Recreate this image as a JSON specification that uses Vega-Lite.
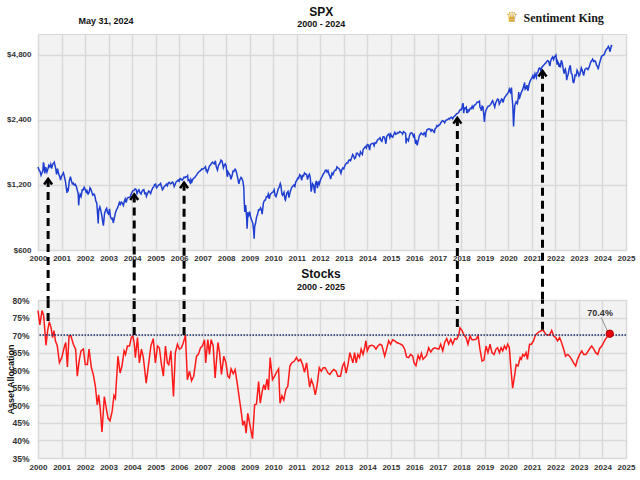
{
  "$schema": "https://vega.github.io/schema/vega-lite/v6.json",
  "background": "white",
  "padding": {"left": 5, "right": 3, "top": 5, "bottom": 3},
  "bounds": "flush",
  "spacing": 50,
  "config": {
    "font": "Liberation Sans",
    "view": {"fill": "#f2f2f2", "stroke": "#d6d6d6", "strokeWidth": 1},
    "axis": {"labelFont": "Liberation Sans", "labelFontWeight": "bold", "labelFontSize": 8, "labelColor": "#333333", "gridColor": "#d9d9d9", "gridWidth": 1.5, "ticks": false, "domain": false, "labelPadding": 5, "labelOverlap": false},
    "title": {"font": "Liberation Sans", "fontWeight": "bold", "color": "#111111", "subtitleFont": "Liberation Sans", "subtitleFontWeight": "bold", "subtitleColor": "#111111"}
  },
  "datasets": {
    "arrows": [
      {"t": 2000.43, "tip": 1280, "base": 352, "peak": 74.0, "top": 80},
      {"t": 2004.09, "tip": 1085, "base": 352, "peak": 70.0, "top": 80},
      {"t": 2006.21, "tip": 1230, "base": 352, "peak": 70.0, "top": 80},
      {"t": 2017.83, "tip": 2450, "base": 352, "peak": 72.3, "top": 80},
      {"t": 2021.45, "tip": 4050, "base": 352, "peak": 71.5, "top": 80}
    ],
    "heading": [
      {"t": 2012.04, "v": 7546, "label": "SPX", "size": 12},
      {"t": 2012.04, "v": 6675, "label": "2000 - 2024", "size": 9},
      {"t": 2002.89, "v": 6860, "label": "May 31, 2024", "size": 9}
    ],
    "spx": [
{"t":2000.00,"v":1455},{"t":2000.05,"v":1400},{"t":2000.08,"v":1394},{"t":2000.13,"v":1330},{"t":2000.17,"v":1366},{"t":2000.21,"v":1400},{"t":2000.23,"v":1527},{"t":2000.25,"v":1499},{"t":2000.29,"v":1356},{"t":2000.33,"v":1452},{"t":2000.38,"v":1378},{"t":2000.42,"v":1421},{"t":2000.46,"v":1478},{"t":2000.50,"v":1455},{"t":2000.54,"v":1497},{"t":2000.58,"v":1431},{"t":2000.63,"v":1500},{"t":2000.67,"v":1518},{"t":2000.69,"v":1530},{"t":2000.75,"v":1437},{"t":2000.79,"v":1342},{"t":2000.83,"v":1429},{"t":2000.88,"v":1348},{"t":2000.92,"v":1315},{"t":2000.96,"v":1264},
{"t":2001.00,"v":1320},{"t":2001.04,"v":1340},{"t":2001.08,"v":1366},{"t":2001.13,"v":1300},{"t":2001.17,"v":1240},{"t":2001.21,"v":1150},{"t":2001.23,"v":1103},{"t":2001.25,"v":1160},{"t":2001.28,"v":1120},{"t":2001.33,"v":1249},{"t":2001.38,"v":1312},{"t":2001.42,"v":1256},{"t":2001.46,"v":1215},{"t":2001.50,"v":1224},{"t":2001.54,"v":1200},{"t":2001.58,"v":1211},{"t":2001.63,"v":1180},{"t":2001.67,"v":1134},{"t":2001.71,"v":1092},{"t":2001.73,"v":966},{"t":2001.75,"v":1041},{"t":2001.79,"v":1085},{"t":2001.83,"v":1060},{"t":2001.88,"v":1140},{"t":2001.92,"v":1139},{"t":2001.96,"v":1170},
{"t":2002.00,"v":1148},{"t":2002.05,"v":1110},{"t":2002.08,"v":1130},{"t":2002.13,"v":1090},{"t":2002.17,"v":1107},{"t":2002.21,"v":1165},{"t":2002.25,"v":1147},{"t":2002.29,"v":1110},{"t":2002.33,"v":1077},{"t":2002.38,"v":1090},{"t":2002.42,"v":1067},{"t":2002.46,"v":1010},{"t":2002.50,"v":990},{"t":2002.54,"v":860},{"t":2002.56,"v":797},{"t":2002.58,"v":912},{"t":2002.63,"v":950},{"t":2002.67,"v":916},{"t":2002.71,"v":870},{"t":2002.75,"v":815},{"t":2002.78,"v":777},{"t":2002.83,"v":886},{"t":2002.88,"v":920},{"t":2002.92,"v":936},{"t":2002.96,"v":890},
{"t":2003.00,"v":880},{"t":2003.04,"v":930},{"t":2003.08,"v":856},{"t":2003.13,"v":835},{"t":2003.17,"v":841},{"t":2003.20,"v":800},{"t":2003.25,"v":848},{"t":2003.29,"v":890},{"t":2003.33,"v":917},{"t":2003.38,"v":940},{"t":2003.42,"v":964},{"t":2003.46,"v":995},{"t":2003.50,"v":975},{"t":2003.54,"v":1000},{"t":2003.58,"v":990},{"t":2003.63,"v":965},{"t":2003.67,"v":1008},{"t":2003.71,"v":1035},{"t":2003.75,"v":996},{"t":2003.79,"v":1040},{"t":2003.83,"v":1051},{"t":2003.88,"v":1050},{"t":2003.92,"v":1058},{"t":2003.96,"v":1090},
{"t":2004.00,"v":1112},{"t":2004.04,"v":1130},{"t":2004.08,"v":1131},{"t":2004.12,"v":1150},{"t":2004.17,"v":1145},{"t":2004.21,"v":1095},{"t":2004.25,"v":1126},{"t":2004.29,"v":1140},{"t":2004.33,"v":1107},{"t":2004.38,"v":1090},{"t":2004.42,"v":1121},{"t":2004.46,"v":1135},{"t":2004.50,"v":1141},{"t":2004.54,"v":1095},{"t":2004.58,"v":1102},{"t":2004.61,"v":1063},{"t":2004.67,"v":1104},{"t":2004.71,"v":1125},{"t":2004.75,"v":1115},{"t":2004.79,"v":1095},{"t":2004.83,"v":1130},{"t":2004.88,"v":1165},{"t":2004.92,"v":1174},{"t":2004.96,"v":1205},
{"t":2005.00,"v":1212},{"t":2005.04,"v":1165},{"t":2005.08,"v":1181},{"t":2005.13,"v":1200},{"t":2005.17,"v":1204},{"t":2005.21,"v":1220},{"t":2005.25,"v":1181},{"t":2005.29,"v":1140},{"t":2005.33,"v":1157},{"t":2005.38,"v":1185},{"t":2005.42,"v":1192},{"t":2005.46,"v":1210},{"t":2005.50,"v":1191},{"t":2005.54,"v":1225},{"t":2005.58,"v":1234},{"t":2005.63,"v":1215},{"t":2005.67,"v":1220},{"t":2005.71,"v":1238},{"t":2005.75,"v":1229},{"t":2005.79,"v":1180},{"t":2005.83,"v":1207},{"t":2005.88,"v":1245},{"t":2005.92,"v":1249},{"t":2005.96,"v":1265},
{"t":2006.00,"v":1248},{"t":2006.04,"v":1285},{"t":2006.08,"v":1280},{"t":2006.13,"v":1262},{"t":2006.17,"v":1281},{"t":2006.21,"v":1305},{"t":2006.25,"v":1295},{"t":2006.29,"v":1310},{"t":2006.33,"v":1311},{"t":2006.36,"v":1326},{"t":2006.38,"v":1260},{"t":2006.42,"v":1270},{"t":2006.46,"v":1230},{"t":2006.48,"v":1224},{"t":2006.50,"v":1270},{"t":2006.54,"v":1240},{"t":2006.58,"v":1277},{"t":2006.63,"v":1290},{"t":2006.67,"v":1304},{"t":2006.71,"v":1320},{"t":2006.75,"v":1336},{"t":2006.79,"v":1360},{"t":2006.83,"v":1378},{"t":2006.88,"v":1390},{"t":2006.92,"v":1401},{"t":2006.96,"v":1425},
{"t":2007.00,"v":1418},{"t":2007.04,"v":1430},{"t":2007.08,"v":1438},{"t":2007.12,"v":1457},{"t":2007.15,"v":1400},{"t":2007.17,"v":1407},{"t":2007.20,"v":1375},{"t":2007.25,"v":1421},{"t":2007.29,"v":1470},{"t":2007.33,"v":1482},{"t":2007.38,"v":1515},{"t":2007.42,"v":1531},{"t":2007.46,"v":1510},{"t":2007.50,"v":1503},{"t":2007.54,"v":1553},{"t":2007.58,"v":1455},{"t":2007.63,"v":1406},{"t":2007.67,"v":1474},{"t":2007.71,"v":1500},{"t":2007.75,"v":1527},{"t":2007.78,"v":1565},{"t":2007.83,"v":1549},{"t":2007.88,"v":1440},{"t":2007.92,"v":1481},{"t":2007.96,"v":1500},
{"t":2008.00,"v":1468},{"t":2008.04,"v":1330},{"t":2008.06,"v":1310},{"t":2008.08,"v":1379},{"t":2008.13,"v":1350},{"t":2008.17,"v":1331},{"t":2008.20,"v":1275},{"t":2008.25,"v":1323},{"t":2008.29,"v":1390},{"t":2008.33,"v":1386},{"t":2008.38,"v":1420},{"t":2008.42,"v":1400},{"t":2008.46,"v":1340},{"t":2008.50,"v":1280},{"t":2008.54,"v":1215},{"t":2008.58,"v":1267},{"t":2008.63,"v":1300},{"t":2008.67,"v":1283},{"t":2008.71,"v":1250},{"t":2008.75,"v":1166},{"t":2008.77,"v":1000},{"t":2008.79,"v":900},{"t":2008.81,"v":940},{"t":2008.83,"v":969},{"t":2008.87,"v":850},{"t":2008.89,"v":752},{"t":2008.92,"v":896},{"t":2008.96,"v":870},
{"t":2009.00,"v":903},{"t":2009.04,"v":850},{"t":2009.08,"v":826},{"t":2009.13,"v":800},{"t":2009.17,"v":735},{"t":2009.19,"v":677},{"t":2009.21,"v":770},{"t":2009.25,"v":798},{"t":2009.29,"v":850},{"t":2009.33,"v":873},{"t":2009.38,"v":920},{"t":2009.42,"v":919},{"t":2009.46,"v":940},{"t":2009.50,"v":919},{"t":2009.53,"v":880},{"t":2009.58,"v":987},{"t":2009.63,"v":1020},{"t":2009.67,"v":1021},{"t":2009.71,"v":1060},{"t":2009.75,"v":1057},{"t":2009.79,"v":1090},{"t":2009.83,"v":1036},{"t":2009.88,"v":1090},{"t":2009.92,"v":1096},{"t":2009.96,"v":1110},
{"t":2010.00,"v":1115},{"t":2010.04,"v":1140},{"t":2010.08,"v":1074},{"t":2010.12,"v":1060},{"t":2010.17,"v":1104},{"t":2010.21,"v":1150},{"t":2010.25,"v":1169},{"t":2010.30,"v":1217},{"t":2010.33,"v":1187},{"t":2010.37,"v":1090},{"t":2010.40,"v":1075},{"t":2010.42,"v":1089},{"t":2010.46,"v":1110},{"t":2010.50,"v":1031},{"t":2010.52,"v":1022},{"t":2010.58,"v":1102},{"t":2010.63,"v":1120},{"t":2010.67,"v":1049},{"t":2010.71,"v":1100},{"t":2010.75,"v":1141},{"t":2010.79,"v":1170},{"t":2010.83,"v":1183},{"t":2010.88,"v":1200},{"t":2010.92,"v":1181},{"t":2010.96,"v":1240},
{"t":2011.00,"v":1258},{"t":2011.04,"v":1290},{"t":2011.08,"v":1286},{"t":2011.13,"v":1340},{"t":2011.17,"v":1327},{"t":2011.21,"v":1260},{"t":2011.25,"v":1326},{"t":2011.29,"v":1320},{"t":2011.33,"v":1364},{"t":2011.38,"v":1345},{"t":2011.42,"v":1345},{"t":2011.46,"v":1270},{"t":2011.50,"v":1321},{"t":2011.54,"v":1345},{"t":2011.58,"v":1292},{"t":2011.61,"v":1120},{"t":2011.63,"v":1140},{"t":2011.67,"v":1219},{"t":2011.71,"v":1200},{"t":2011.75,"v":1131},{"t":2011.77,"v":1099},{"t":2011.79,"v":1200},{"t":2011.83,"v":1253},{"t":2011.88,"v":1160},{"t":2011.92,"v":1247},{"t":2011.96,"v":1210},
{"t":2012.00,"v":1258},{"t":2012.04,"v":1290},{"t":2012.08,"v":1312},{"t":2012.13,"v":1350},{"t":2012.17,"v":1366},{"t":2012.21,"v":1400},{"t":2012.25,"v":1408},{"t":2012.29,"v":1375},{"t":2012.33,"v":1398},{"t":2012.38,"v":1340},{"t":2012.42,"v":1310},{"t":2012.44,"v":1278},{"t":2012.50,"v":1362},{"t":2012.54,"v":1340},{"t":2012.58,"v":1379},{"t":2012.63,"v":1405},{"t":2012.67,"v":1407},{"t":2012.71,"v":1455},{"t":2012.75,"v":1441},{"t":2012.79,"v":1430},{"t":2012.83,"v":1412},{"t":2012.88,"v":1360},{"t":2012.92,"v":1416},{"t":2012.96,"v":1440},
{"t":2013.00,"v":1426},{"t":2013.04,"v":1470},{"t":2013.08,"v":1498},{"t":2013.13,"v":1520},{"t":2013.17,"v":1515},{"t":2013.21,"v":1560},{"t":2013.25,"v":1569},{"t":2013.29,"v":1555},{"t":2013.33,"v":1598},{"t":2013.38,"v":1660},{"t":2013.42,"v":1631},{"t":2013.46,"v":1590},{"t":2013.50,"v":1606},{"t":2013.54,"v":1680},{"t":2013.58,"v":1686},{"t":2013.63,"v":1655},{"t":2013.67,"v":1633},{"t":2013.71,"v":1710},{"t":2013.75,"v":1682},{"t":2013.79,"v":1660},{"t":2013.83,"v":1757},{"t":2013.88,"v":1780},{"t":2013.92,"v":1806},{"t":2013.96,"v":1780},
{"t":2014.00,"v":1848},{"t":2014.04,"v":1840},{"t":2014.08,"v":1783},{"t":2014.10,"v":1741},{"t":2014.13,"v":1840},{"t":2014.17,"v":1859},{"t":2014.21,"v":1870},{"t":2014.25,"v":1872},{"t":2014.29,"v":1820},{"t":2014.33,"v":1884},{"t":2014.38,"v":1880},{"t":2014.42,"v":1924},{"t":2014.46,"v":1950},{"t":2014.50,"v":1960},{"t":2014.54,"v":1985},{"t":2014.58,"v":1931},{"t":2014.62,"v":1910},{"t":2014.67,"v":2003},{"t":2014.71,"v":2010},{"t":2014.75,"v":1972},{"t":2014.79,"v":1862},{"t":2014.83,"v":2018},{"t":2014.88,"v":2050},{"t":2014.92,"v":2068},{"t":2014.96,"v":1990},
{"t":2015.00,"v":2059},{"t":2015.04,"v":2010},{"t":2015.08,"v":1995},{"t":2015.13,"v":2060},{"t":2015.17,"v":2105},{"t":2015.21,"v":2060},{"t":2015.25,"v":2068},{"t":2015.29,"v":2100},{"t":2015.33,"v":2086},{"t":2015.38,"v":2120},{"t":2015.42,"v":2107},{"t":2015.46,"v":2095},{"t":2015.50,"v":2063},{"t":2015.54,"v":2120},{"t":2015.58,"v":2104},{"t":2015.63,"v":2080},{"t":2015.65,"v":1868},{"t":2015.67,"v":1972},{"t":2015.71,"v":1950},{"t":2015.75,"v":1920},{"t":2015.79,"v":2020},{"t":2015.83,"v":2079},{"t":2015.88,"v":2090},{"t":2015.92,"v":2080},{"t":2015.96,"v":2010},
{"t":2016.00,"v":2044},{"t":2016.04,"v":1900},{"t":2016.06,"v":1860},{"t":2016.08,"v":1940},{"t":2016.12,"v":1829},{"t":2016.17,"v":1932},{"t":2016.21,"v":2020},{"t":2016.25,"v":2060},{"t":2016.29,"v":2090},{"t":2016.33,"v":2065},{"t":2016.38,"v":2050},{"t":2016.42,"v":2097},{"t":2016.46,"v":2070},{"t":2016.48,"v":2000},{"t":2016.50,"v":2099},{"t":2016.54,"v":2160},{"t":2016.58,"v":2174},{"t":2016.63,"v":2185},{"t":2016.67,"v":2171},{"t":2016.71,"v":2130},{"t":2016.75,"v":2168},{"t":2016.79,"v":2140},{"t":2016.83,"v":2126},{"t":2016.85,"v":2085},{"t":2016.88,"v":2180},{"t":2016.92,"v":2199},{"t":2016.96,"v":2260},
{"t":2017.00,"v":2239},{"t":2017.04,"v":2270},{"t":2017.08,"v":2279},{"t":2017.13,"v":2330},{"t":2017.17,"v":2364},{"t":2017.21,"v":2380},{"t":2017.25,"v":2363},{"t":2017.29,"v":2330},{"t":2017.33,"v":2384},{"t":2017.38,"v":2400},{"t":2017.42,"v":2412},{"t":2017.46,"v":2440},{"t":2017.50,"v":2423},{"t":2017.54,"v":2460},{"t":2017.58,"v":2470},{"t":2017.63,"v":2430},{"t":2017.67,"v":2472},{"t":2017.71,"v":2500},{"t":2017.75,"v":2519},{"t":2017.79,"v":2560},{"t":2017.83,"v":2575},{"t":2017.88,"v":2590},{"t":2017.92,"v":2648},{"t":2017.96,"v":2680},
{"t":2018.00,"v":2674},{"t":2018.04,"v":2780},{"t":2018.07,"v":2872},{"t":2018.08,"v":2824},{"t":2018.10,"v":2581},{"t":2018.13,"v":2730},{"t":2018.17,"v":2714},{"t":2018.21,"v":2750},{"t":2018.23,"v":2588},{"t":2018.25,"v":2641},{"t":2018.27,"v":2581},{"t":2018.29,"v":2670},{"t":2018.33,"v":2648},{"t":2018.38,"v":2720},{"t":2018.42,"v":2705},{"t":2018.46,"v":2780},{"t":2018.50,"v":2718},{"t":2018.54,"v":2800},{"t":2018.58,"v":2816},{"t":2018.63,"v":2850},{"t":2018.67,"v":2902},{"t":2018.71,"v":2900},{"t":2018.75,"v":2914},{"t":2018.77,"v":2930},{"t":2018.79,"v":2750},{"t":2018.83,"v":2712},{"t":2018.85,"v":2641},{"t":2018.88,"v":2780},{"t":2018.92,"v":2760},{"t":2018.94,"v":2633},{"t":2018.98,"v":2351},
{"t":2019.00,"v":2507},{"t":2019.04,"v":2650},{"t":2019.08,"v":2704},{"t":2019.13,"v":2775},{"t":2019.17,"v":2784},{"t":2019.21,"v":2800},{"t":2019.25,"v":2834},{"t":2019.29,"v":2905},{"t":2019.33,"v":2946},{"t":2019.38,"v":2840},{"t":2019.42,"v":2752},{"t":2019.46,"v":2880},{"t":2019.50,"v":2942},{"t":2019.54,"v":3000},{"t":2019.58,"v":2980},{"t":2019.61,"v":2840},{"t":2019.67,"v":2926},{"t":2019.71,"v":3000},{"t":2019.75,"v":2977},{"t":2019.77,"v":2888},{"t":2019.83,"v":3038},{"t":2019.88,"v":3090},{"t":2019.92,"v":3141},{"t":2019.96,"v":3170},
{"t":2020.00,"v":3231},{"t":2020.04,"v":3330},{"t":2020.06,"v":3270},{"t":2020.08,"v":3226},{"t":2020.13,"v":3386},{"t":2020.16,"v":3000},{"t":2020.17,"v":2954},{"t":2020.19,"v":2740},{"t":2020.21,"v":2386},{"t":2020.22,"v":2237},{"t":2020.25,"v":2585},{"t":2020.27,"v":2790},{"t":2020.29,"v":2840},{"t":2020.33,"v":2912},{"t":2020.38,"v":2860},{"t":2020.42,"v":3044},{"t":2020.44,"v":3230},{"t":2020.46,"v":3000},{"t":2020.50,"v":3100},{"t":2020.54,"v":3200},{"t":2020.58,"v":3271},{"t":2020.63,"v":3380},{"t":2020.67,"v":3500},{"t":2020.69,"v":3580},{"t":2020.71,"v":3330},{"t":2020.75,"v":3363},{"t":2020.79,"v":3480},{"t":2020.83,"v":3270},{"t":2020.88,"v":3510},{"t":2020.92,"v":3622},{"t":2020.96,"v":3700},
{"t":2021.00,"v":3756},{"t":2021.04,"v":3850},{"t":2021.08,"v":3714},{"t":2021.13,"v":3930},{"t":2021.17,"v":3811},{"t":2021.19,"v":3770},{"t":2021.21,"v":3960},{"t":2021.25,"v":3973},{"t":2021.29,"v":4150},{"t":2021.33,"v":4181},{"t":2021.38,"v":4060},{"t":2021.42,"v":4204},{"t":2021.46,"v":4250},{"t":2021.50,"v":4298},{"t":2021.54,"v":4360},{"t":2021.58,"v":4395},{"t":2021.63,"v":4470},{"t":2021.67,"v":4523},{"t":2021.71,"v":4480},{"t":2021.75,"v":4308},{"t":2021.77,"v":4300},{"t":2021.79,"v":4470},{"t":2021.83,"v":4605},{"t":2021.88,"v":4700},{"t":2021.92,"v":4567},{"t":2021.96,"v":4700},
{"t":2022.00,"v":4766},{"t":2022.02,"v":4796},{"t":2022.04,"v":4580},{"t":2022.07,"v":4327},{"t":2022.08,"v":4516},{"t":2022.13,"v":4400},{"t":2022.15,"v":4225},{"t":2022.17,"v":4374},{"t":2022.21,"v":4200},{"t":2022.25,"v":4530},{"t":2022.29,"v":4400},{"t":2022.33,"v":4132},{"t":2022.37,"v":3930},{"t":2022.40,"v":4100},{"t":2022.42,"v":4132},{"t":2022.46,"v":3900},{"t":2022.48,"v":3667},{"t":2022.50,"v":3785},{"t":2022.54,"v":3900},{"t":2022.58,"v":4130},{"t":2022.63,"v":4300},{"t":2022.67,"v":3955},{"t":2022.71,"v":3900},{"t":2022.75,"v":3586},{"t":2022.78,"v":3577},{"t":2022.81,"v":3700},{"t":2022.83,"v":3872},{"t":2022.88,"v":3850},{"t":2022.92,"v":4080},{"t":2022.96,"v":3990},
{"t":2023.00,"v":3840},{"t":2023.04,"v":3900},{"t":2023.08,"v":4077},{"t":2023.10,"v":4180},{"t":2023.13,"v":4100},{"t":2023.17,"v":3970},{"t":2023.20,"v":3850},{"t":2023.25,"v":4109},{"t":2023.29,"v":4150},{"t":2023.33,"v":4169},{"t":2023.38,"v":4100},{"t":2023.42,"v":4180},{"t":2023.46,"v":4300},{"t":2023.50,"v":4450},{"t":2023.54,"v":4510},{"t":2023.58,"v":4589},{"t":2023.63,"v":4470},{"t":2023.67,"v":4508},{"t":2023.71,"v":4470},{"t":2023.75,"v":4288},{"t":2023.79,"v":4250},{"t":2023.82,"v":4117},{"t":2023.83,"v":4194},{"t":2023.88,"v":4410},{"t":2023.92,"v":4568},{"t":2023.96,"v":4720},
{"t":2024.00,"v":4770},{"t":2024.04,"v":4780},{"t":2024.08,"v":4846},{"t":2024.13,"v":5010},{"t":2024.17,"v":5096},{"t":2024.21,"v":5150},{"t":2024.25,"v":5254},{"t":2024.29,"v":5150},{"t":2024.31,"v":4967},{"t":2024.33,"v":5036},{"t":2024.38,"v":5300},{"t":2024.42,"v":5278}
    ],
    "alloc": [
{"t":2000.00,"p":77.0},{"t":2000.08,"p":72.9},{"t":2000.17,"p":77.0},{"t":2000.24,"p":75.6},{"t":2000.34,"p":67.1},{"t":2000.41,"p":71.3},{"t":2000.48,"p":73.8},{"t":2000.56,"p":72.0},{"t":2000.62,"p":69.3},{"t":2000.68,"p":71.3},{"t":2000.74,"p":68.4},{"t":2000.82,"p":66.9},{"t":2000.91,"p":62.1},
{"t":2001.01,"p":63.6},{"t":2001.11,"p":66.4},{"t":2001.18,"p":67.9},{"t":2001.25,"p":60.9},{"t":2001.32,"p":69.8},{"t":2001.40,"p":69.8},{"t":2001.50,"p":67.4},{"t":2001.60,"p":66.0},{"t":2001.67,"p":58.3},{"t":2001.76,"p":63.1},{"t":2001.83,"p":65.5},{"t":2001.93,"p":66.0},
{"t":2002.01,"p":61.6},{"t":2002.10,"p":61.6},{"t":2002.17,"p":66.0},{"t":2002.27,"p":60.7},{"t":2002.35,"p":58.8},{"t":2002.44,"p":55.4},{"t":2002.52,"p":50.1},{"t":2002.58,"p":53.0},{"t":2002.64,"p":49.6},{"t":2002.72,"p":42.4},{"t":2002.82,"p":52.5},{"t":2002.89,"p":49.6},{"t":2002.98,"p":46.3},
{"t":2003.06,"p":45.6},{"t":2003.15,"p":48.2},{"t":2003.23,"p":52.8},{"t":2003.29,"p":52.0},{"t":2003.40,"p":64.0},{"t":2003.49,"p":59.2},{"t":2003.57,"p":61.2},{"t":2003.66,"p":65.5},{"t":2003.72,"p":64.5},{"t":2003.80,"p":66.9},{"t":2003.89,"p":66.9},{"t":2003.97,"p":69.3},
{"t":2004.03,"p":69.8},{"t":2004.09,"p":67.9},{"t":2004.14,"p":63.6},{"t":2004.23,"p":69.3},{"t":2004.31,"p":62.1},{"t":2004.40,"p":66.0},{"t":2004.48,"p":63.6},{"t":2004.60,"p":56.3},{"t":2004.71,"p":62.1},{"t":2004.80,"p":66.9},{"t":2004.90,"p":69.0},{"t":2004.99,"p":62.1},
{"t":2005.08,"p":66.9},{"t":2005.16,"p":66.4},{"t":2005.25,"p":61.6},{"t":2005.33,"p":58.3},{"t":2005.42,"p":66.9},{"t":2005.50,"p":62.1},{"t":2005.56,"p":61.6},{"t":2005.65,"p":65.5},{"t":2005.76,"p":52.5},{"t":2005.84,"p":65.0},{"t":2005.93,"p":67.4},
{"t":2006.01,"p":66.0},{"t":2006.10,"p":66.4},{"t":2006.18,"p":67.9},{"t":2006.27,"p":70.0},{"t":2006.35,"p":57.3},{"t":2006.44,"p":59.7},{"t":2006.53,"p":57.0},{"t":2006.62,"p":58.3},{"t":2006.74,"p":64.0},{"t":2006.82,"p":64.5},{"t":2006.91,"p":66.4},{"t":2006.99,"p":66.9},
{"t":2007.08,"p":68.7},{"t":2007.13,"p":62.1},{"t":2007.22,"p":68.7},{"t":2007.29,"p":64.5},{"t":2007.36,"p":68.7},{"t":2007.45,"p":66.9},{"t":2007.53,"p":57.8},{"t":2007.65,"p":67.9},{"t":2007.72,"p":65.0},{"t":2007.80,"p":58.8},{"t":2007.90,"p":64.0},{"t":2007.99,"p":62.1},
{"t":2008.07,"p":58.3},{"t":2008.14,"p":57.8},{"t":2008.21,"p":60.4},{"t":2008.30,"p":59.0},{"t":2008.38,"p":60.2},{"t":2008.47,"p":56.3},{"t":2008.57,"p":51.5},{"t":2008.64,"p":48.2},{"t":2008.71,"p":44.3},{"t":2008.78,"p":45.6},{"t":2008.85,"p":42.1},{"t":2008.92,"p":47.7},
{"t":2009.00,"p":44.8},{"t":2009.12,"p":40.5},{"t":2009.21,"p":50.1},{"t":2009.29,"p":50.4},{"t":2009.38,"p":56.8},{"t":2009.45,"p":50.6},{"t":2009.53,"p":53.9},{"t":2009.60,"p":55.9},{"t":2009.66,"p":54.4},{"t":2009.74,"p":57.5},{"t":2009.80,"p":54.4},{"t":2009.87,"p":63.6},{"t":2009.97,"p":57.3},
{"t":2010.06,"p":58.3},{"t":2010.14,"p":59.4},{"t":2010.23,"p":60.4},{"t":2010.29,"p":50.6},{"t":2010.37,"p":52.7},{"t":2010.45,"p":51.5},{"t":2010.54,"p":54.6},{"t":2010.62,"p":55.4},{"t":2010.71,"p":61.2},{"t":2010.79,"p":62.1},{"t":2010.90,"p":62.6},{"t":2010.99,"p":63.6},
{"t":2011.07,"p":62.6},{"t":2011.16,"p":63.1},{"t":2011.25,"p":61.6},{"t":2011.33,"p":59.4},{"t":2011.42,"p":62.1},{"t":2011.48,"p":58.8},{"t":2011.55,"p":55.2},{"t":2011.62,"p":57.3},{"t":2011.70,"p":55.9},{"t":2011.79,"p":53.0},{"t":2011.87,"p":55.9},{"t":2011.96,"p":60.7},
{"t":2012.04,"p":59.7},{"t":2012.13,"p":60.7},{"t":2012.21,"p":60.7},{"t":2012.33,"p":59.2},{"t":2012.41,"p":58.8},{"t":2012.50,"p":59.7},{"t":2012.58,"p":60.2},{"t":2012.67,"p":59.7},{"t":2012.75,"p":58.3},{"t":2012.86,"p":58.3},{"t":2012.95,"p":61.2},
{"t":2013.02,"p":62.1},{"t":2013.10,"p":59.2},{"t":2013.18,"p":61.6},{"t":2013.26,"p":65.0},{"t":2013.39,"p":62.1},{"t":2013.46,"p":65.0},{"t":2013.53,"p":62.1},{"t":2013.60,"p":64.5},{"t":2013.67,"p":63.6},{"t":2013.74,"p":66.0},{"t":2013.82,"p":64.5},{"t":2013.89,"p":66.4},{"t":2013.94,"p":68.4},
{"t":2014.00,"p":65.5},{"t":2014.09,"p":66.9},{"t":2014.20,"p":67.1},{"t":2014.28,"p":66.9},{"t":2014.37,"p":66.0},{"t":2014.45,"p":66.9},{"t":2014.54,"p":67.4},{"t":2014.62,"p":67.1},{"t":2014.74,"p":64.0},{"t":2014.82,"p":66.0},{"t":2014.91,"p":68.4},{"t":2014.99,"p":67.4},
{"t":2015.08,"p":68.7},{"t":2015.16,"p":68.4},{"t":2015.25,"p":67.9},{"t":2015.33,"p":67.7},{"t":2015.42,"p":67.4},{"t":2015.50,"p":67.1},{"t":2015.59,"p":66.0},{"t":2015.67,"p":63.8},{"t":2015.76,"p":63.6},{"t":2015.84,"p":64.5},{"t":2015.93,"p":64.0},{"t":2015.99,"p":62.1},
{"t":2016.07,"p":61.3},{"t":2016.16,"p":64.2},{"t":2016.23,"p":63.1},{"t":2016.30,"p":64.8},{"t":2016.37,"p":63.1},{"t":2016.44,"p":63.6},{"t":2016.52,"p":64.2},{"t":2016.61,"p":66.4},{"t":2016.70,"p":65.2},{"t":2016.78,"p":66.0},{"t":2016.87,"p":66.4},{"t":2016.95,"p":66.2},
{"t":2017.04,"p":66.0},{"t":2017.12,"p":67.4},{"t":2017.21,"p":65.5},{"t":2017.29,"p":67.9},{"t":2017.38,"p":69.0},{"t":2017.46,"p":67.4},{"t":2017.55,"p":68.8},{"t":2017.63,"p":67.4},{"t":2017.72,"p":69.0},{"t":2017.80,"p":68.8},{"t":2017.89,"p":70.0},{"t":2017.94,"p":72.1},
{"t":2018.03,"p":71.3},{"t":2018.11,"p":70.0},{"t":2018.20,"p":69.3},{"t":2018.28,"p":67.4},{"t":2018.37,"p":69.8},{"t":2018.45,"p":68.7},{"t":2018.54,"p":68.7},{"t":2018.62,"p":68.8},{"t":2018.71,"p":69.8},{"t":2018.79,"p":66.0},{"t":2018.88,"p":62.6},{"t":2018.96,"p":62.9},
{"t":2019.05,"p":66.9},{"t":2019.13,"p":65.0},{"t":2019.22,"p":67.4},{"t":2019.30,"p":65.0},{"t":2019.39,"p":64.5},{"t":2019.47,"p":66.0},{"t":2019.54,"p":66.4},{"t":2019.62,"p":65.0},{"t":2019.69,"p":66.4},{"t":2019.76,"p":65.5},{"t":2019.83,"p":66.9},{"t":2019.90,"p":66.0},{"t":2019.97,"p":67.4},
{"t":2020.04,"p":66.4},{"t":2020.11,"p":60.2},{"t":2020.18,"p":54.9},{"t":2020.26,"p":58.3},{"t":2020.33,"p":61.6},{"t":2020.41,"p":61.2},{"t":2020.50,"p":63.6},{"t":2020.55,"p":63.1},{"t":2020.61,"p":64.5},{"t":2020.68,"p":64.0},{"t":2020.75,"p":65.0},{"t":2020.81,"p":63.1},{"t":2020.90,"p":67.4},{"t":2020.98,"p":67.4},
{"t":2021.07,"p":68.4},{"t":2021.15,"p":70.0},{"t":2021.24,"p":70.6},{"t":2021.32,"p":71.0},{"t":2021.41,"p":71.3},{"t":2021.49,"p":71.3},{"t":2021.58,"p":70.3},{"t":2021.66,"p":70.0},{"t":2021.75,"p":70.0},{"t":2021.84,"p":71.3},{"t":2021.92,"p":69.8},
{"t":2022.01,"p":69.3},{"t":2022.09,"p":68.4},{"t":2022.18,"p":69.3},{"t":2022.26,"p":67.9},{"t":2022.35,"p":66.0},{"t":2022.43,"p":64.0},{"t":2022.52,"p":64.5},{"t":2022.60,"p":64.0},{"t":2022.69,"p":63.1},{"t":2022.77,"p":62.1},{"t":2022.86,"p":61.2},{"t":2022.94,"p":63.1},
{"t":2023.03,"p":64.5},{"t":2023.12,"p":65.5},{"t":2023.20,"p":64.5},{"t":2023.29,"p":64.5},{"t":2023.37,"p":65.2},{"t":2023.46,"p":66.2},{"t":2023.54,"p":66.9},{"t":2023.63,"p":66.0},{"t":2023.71,"p":65.0},{"t":2023.80,"p":64.5},{"t":2023.88,"p":66.2},{"t":2023.97,"p":66.9},
{"t":2024.05,"p":67.9},{"t":2024.14,"p":69.0},{"t":2024.22,"p":69.6},{"t":2024.31,"p":70.4}
    ]
  },
  "vconcat": [
    {
      "width": 588,
      "height": 216,
      "layer": [
        {
          "data": {"name": "spx"},
          "mark": {"type": "line", "color": "#1f3fd1", "strokeWidth": 1.5},
          "encoding": {
            "x": {"field": "t", "type": "quantitative", "scale": {"domain": [2000, 2025], "nice": false, "zero": false},
                  "axis": {"title": null, "values": [2000,2001,2002,2003,2004,2005,2006,2007,2008,2009,2010,2011,2012,2013,2014,2015,2016,2017,2018,2019,2020,2021,2022,2023,2024,2025], "tickCount": 30, "format": "d", "labelFlush": false, "labelOverlap": false, "labelPadding": 4}},
            "y": {"field": "v", "type": "quantitative", "scale": {"type": "log", "domain": [600, 6000], "nice": false},
                  "axis": {"title": null, "values": [600, 1200, 2400, 4800], "tickCount": 10, "format": "$,d", "labelPadding": 7}}
          }
        },
        {
          "data": {"name": "arrows"},
          "mark": {"type": "rule", "color": "black", "strokeWidth": 3, "strokeDash": [8, 5], "clip": false},
          "encoding": {
            "x": {"field": "t", "type": "quantitative"},
            "y": {"field": "tip", "type": "quantitative"},
            "y2": {"field": "base"}
          }
        },
        {
          "data": {"name": "arrows"},
          "mark": {"type": "point", "shape": "M-1,1.4L0,0L1,1.4", "filled": false, "stroke": "black", "strokeWidth": 2.5, "size": 64, "opacity": 1},
          "encoding": {
            "x": {"field": "t", "type": "quantitative"},
            "y": {"field": "tip", "type": "quantitative"}
          }
        },
        {
          "data": {"name": "heading"},
          "mark": {"type": "text", "font": "Liberation Sans", "fontWeight": "bold", "color": "#111111", "baseline": "middle", "align": "center", "clip": false},
          "encoding": {
            "x": {"field": "t", "type": "quantitative"},
            "y": {"field": "v", "type": "quantitative"},
            "text": {"field": "label"},
            "size": {"field": "size", "type": "quantitative", "scale": null}
          }
        },
        {
          "data": {"values": [{"t": 2022.35, "v": 7120, "label": "Sentiment King"}]},
          "mark": {"type": "text", "font": "Liberation Serif", "fontWeight": "bold", "fontSize": 12, "color": "#1a1a1a", "baseline": "middle", "align": "center", "clip": false},
          "encoding": {
            "x": {"field": "t", "type": "quantitative"},
            "y": {"field": "v", "type": "quantitative"},
            "text": {"field": "label"}
          }
        },
        {
          "data": {"values": [{"t": 2020.15, "v": 7120, "label": "♛"}]},
          "mark": {"type": "text", "font": "DejaVu Sans", "fontSize": 14, "color": "#d4a21c", "baseline": "middle", "align": "center", "clip": false},
          "encoding": {
            "x": {"field": "t", "type": "quantitative"},
            "y": {"field": "v", "type": "quantitative"},
            "text": {"field": "label"}
          }
        }
      ]
    },
    {
      "width": 588,
      "height": 158,
      "title": {"text": "Stocks", "subtitle": "2000 - 2025", "fontSize": 12, "subtitleFontSize": 9, "subtitlePadding": 2, "anchor": "middle", "offset": 3, "dx": -11},
      "layer": [
        {
          "data": {"name": "alloc"},
          "mark": {"type": "line", "color": "#ff1a1a", "strokeWidth": 1.5},
          "encoding": {
            "x": {"field": "t", "type": "quantitative", "scale": {"domain": [2000, 2025], "nice": false, "zero": false},
                  "axis": {"title": null, "values": [2000,2001,2002,2003,2004,2005,2006,2007,2008,2009,2010,2011,2012,2013,2014,2015,2016,2017,2018,2019,2020,2021,2022,2023,2024,2025], "tickCount": 30, "format": "d", "labelFlush": false, "labelOverlap": false, "labelPadding": 5}},
            "y": {"field": "p", "type": "quantitative", "scale": {"domain": [35, 80], "nice": false, "zero": false},
                  "axis": {"title": "Asset Allocation", "values": [35,40,45,50,55,60,65,70,75,80], "tickCount": 12, "labelExpr": "datum.value + '%'", "labelOverlap": false, "labelFontSize": 8.5, "labelPadding": 9, "titleFont": "Liberation Sans", "titleFontWeight": "bold", "titleFontSize": 9, "titleColor": "#111111", "titleX": -23}}
          }
        },
        {
          "data": {"values": [{"y": 70}]},
          "mark": {"type": "rule", "color": "#1c2f6e", "strokeWidth": 1.5, "strokeDash": [1.5, 1.5]},
          "encoding": {"y": {"field": "y", "type": "quantitative"}}
        },
        {
          "data": {"name": "arrows"},
          "mark": {"type": "rule", "color": "black", "strokeWidth": 3, "strokeDash": [8, 5], "clip": false},
          "encoding": {
            "x": {"field": "t", "type": "quantitative"},
            "y": {"field": "peak", "type": "quantitative"},
            "y2": {"field": "top"}
          }
        },
        {
          "data": {"values": [{"t1": 2023.95, "p1": 75.0, "t2": 2024.22, "p2": 71.0}]},
          "mark": {"type": "rule", "color": "#777777", "strokeWidth": 0.8},
          "encoding": {
            "x": {"field": "t1", "type": "quantitative"},
            "y": {"field": "p1", "type": "quantitative"},
            "x2": {"field": "t2"},
            "y2": {"field": "p2"}
          }
        },
        {
          "data": {"values": [{"t": 2024.31, "p": 70.4}]},
          "mark": {"type": "point", "filled": true, "color": "#e8000b", "stroke": "#b00000", "strokeWidth": 1, "size": 55, "opacity": 1},
          "encoding": {
            "x": {"field": "t", "type": "quantitative"},
            "y": {"field": "p", "type": "quantitative"}
          }
        },
        {
          "data": {"values": [{"t": 2023.9, "p": 76.4, "label": "70.4%"}]},
          "mark": {"type": "text", "font": "Liberation Sans", "fontWeight": "bold", "fontSize": 9, "color": "#333333", "baseline": "middle", "align": "center"},
          "encoding": {
            "x": {"field": "t", "type": "quantitative"},
            "y": {"field": "p", "type": "quantitative"},
            "text": {"field": "label"}
          }
        }
      ]
    }
  ]
}
